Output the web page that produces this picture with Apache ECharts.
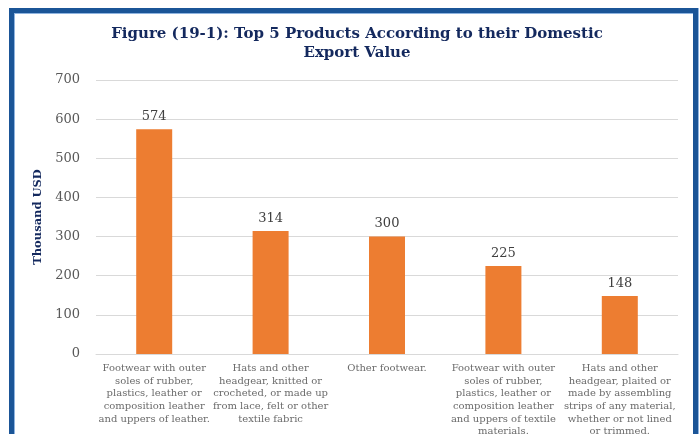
<!DOCTYPE html>
<html>
<head>
<meta charset="utf-8">
<script src="https://cdn.jsdelivr.net/npm/echarts@6/dist/echarts.min.js"></script>
<style>
html,body{margin:0;padding:0;background:#fff;}
#wrap{position:relative;width:700px;height:434px;overflow:hidden;background:#fff;}
#frame{position:absolute;left:9px;top:8px;width:679px;height:440px;border:5px solid #1B5597;box-shadow:inset 1px 1px 0 #8FB4E0, 1px 0 0 #8FB4E0;}
#chart{position:absolute;left:0;top:0;width:700px;height:434px;}
</style>
</head>
<body>
<div id="wrap">
<div id="frame"></div>
<div id="chart"></div>
</div>
<script>
const titleText = "Figure (19-1): Top 5 Products According to their Domestic\nExport Value";
const yAxisName = "Thousand USD";
const categories = [
  "Footwear with outer\nsoles of rubber,\nplastics, leather or\ncomposition leather\nand uppers of leather.",
  "Hats and other\nheadgear, knitted or\ncrocheted, or made up\nfrom lace, felt or other\ntextile fabric",
  "Other footwear.",
  "Footwear with outer\nsoles of rubber,\nplastics, leather or\ncomposition leather\nand uppers of textile\nmaterials.",
  "Hats and other\nheadgear, plaited or\nmade by assembling\nstrips of any material,\nwhether or not lined\nor trimmed."
];
const values = [574, 314, 300, 225, 148];
const yMin = 0, yMax = 700, yInterval = 100;

const chart = echarts.init(document.getElementById('chart'), null, {renderer:'canvas'});
chart.setOption({
  backgroundColor: 'transparent',
  animation: false,
  title: {
    text: titleText,
    left: 352, top: 20, textAlign: 'center',
    textStyle: {fontFamily: 'DejaVu Serif', fontWeight: 'bold', fontSize: 15, color: '#14295E', lineHeight: 19}
  },
  grid: {left: 96, right: 22, top: 80, bottom: 80, containLabel: false, outerBoundsMode: 'none'},
  xAxis: {
    type: 'category', data: categories,
    axisLine: {lineStyle: {color: '#D9D9D9', width: 1}},
    axisTick: {show: false},
    axisLabel: {interval: 0, margin: 8, color: '#6B6B6B', fontFamily: 'DejaVu Serif', fontSize: 10, lineHeight: 12.7}
  },
  yAxis: {
    type: 'value', min: yMin, max: yMax, interval: yInterval,
    name: yAxisName, nameLocation: 'middle', nameGap: 52, nameRotate: 90,
    nameTextStyle: {fontFamily: 'DejaVu Serif', fontWeight: 'bold', fontSize: 11.5, color: '#14295E'},
    axisLine: {show: false}, axisTick: {show: false},
    splitLine: {lineStyle: {color: '#D9D9D9', width: 1}},
    axisLabel: {margin: 16, color: '#595959', fontFamily: 'DejaVu Serif', fontSize: 13}
  },
  series: [{
    type: 'bar', data: values, barWidth: 36,
    itemStyle: {color: '#ED7D31'},
    label: {show: true, position: 'top', distance: 6, color: '#404040', fontFamily: 'DejaVu Serif', fontSize: 13}
  }]
});
</script>
</body>
</html>
